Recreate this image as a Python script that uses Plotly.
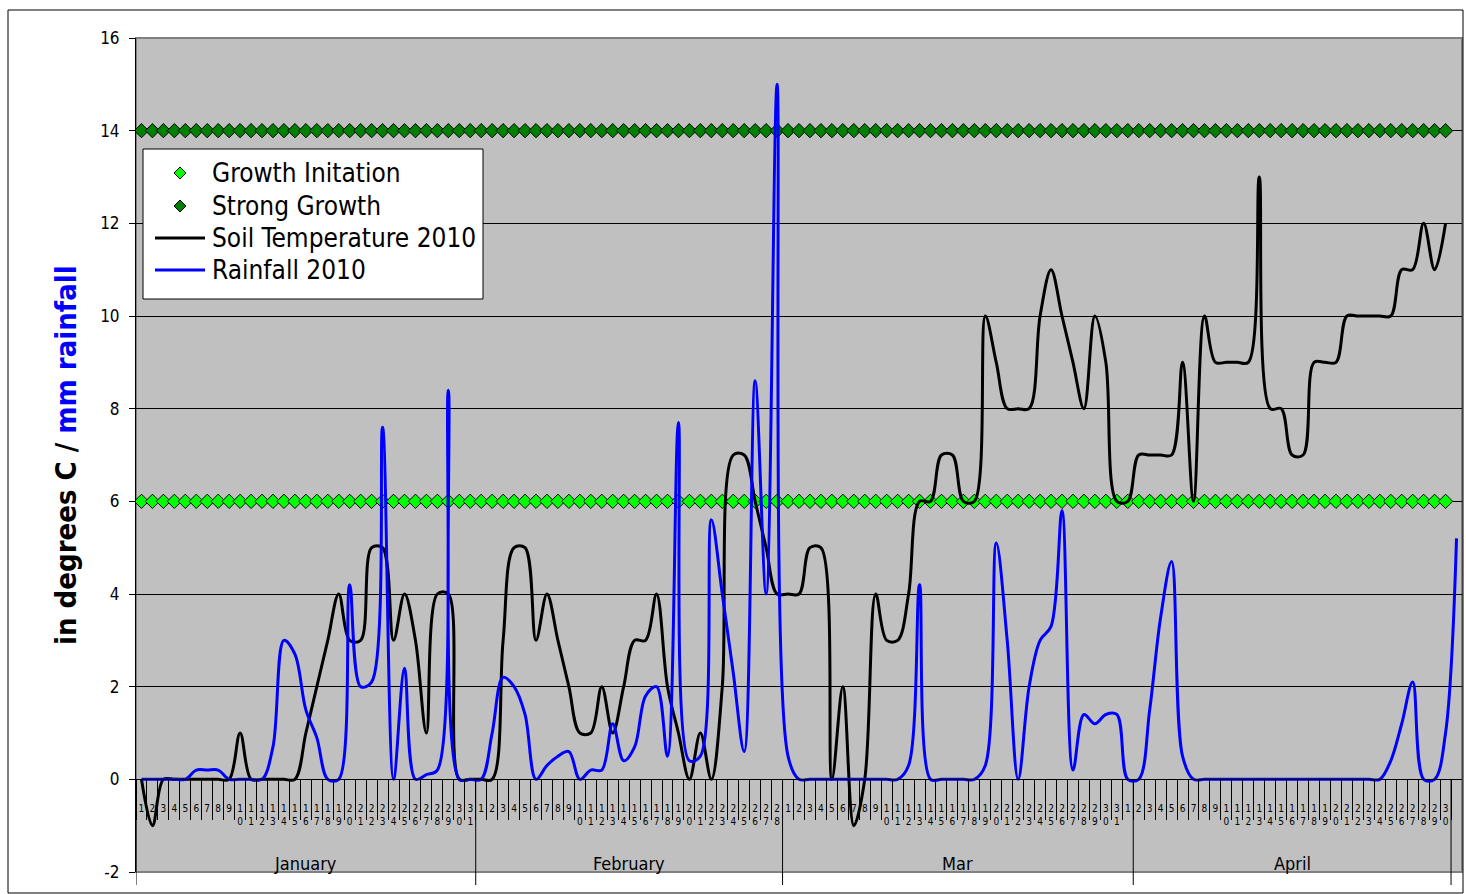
import plotly.graph_objects as go

# ---------------- data ----------------
day_labels = ([str(d) for d in range(1, 32)] + [str(d) for d in range(1, 29)] +
              [str(d) for d in range(1, 32)] + [str(d) for d in range(1, 31)] + [""])
months = ["January", "February", "Mar", "April"]
month_sizes = [31, 28, 32, 29]

soil = [
    # January
    0, -1, 0, 0, 0, 0, 0, 0, 0, 1, 0, 0, 0, 0, 0, 1, 2, 3, 4, 3, 3, 5, 5, 3, 4, 3, 1, 4, 4, 0, 0,
    # February
    0, 0, 3, 5, 5, 3, 4, 3, 2, 1, 1, 2, 1, 2, 3, 3, 4, 2, 1, 0, 1, 0, 2, 7, 7, 6, 5, 4,
    # March
    4, 4, 5, 5, 0, 2, -1, 0, 4, 3, 3, 4, 6, 6, 7, 7, 6, 6, 10, 9, 8, 8, 8, 10, 11, 10, 9, 8, 10, 9, 6, 6,
    # April
    7, 7, 7, 7, 9, 6, 10, 9, 9, 9, 9, 13, 8, 8, 7, 7, 9, 9, 9, 10, 10, 10, 10, 10, 11, 11, 12, 11, 12,
    None,
]

rain = [
    # January
    0, 0, 0, 0, 0, 0.2, 0.2, 0.2, 0, 0, 0, 0, 0.7, 3.0, 2.7, 1.5, 0.9, 0, 0, 4.2, 2.0, 2.1, 7.6, 0, 2.4, 0, 0.1, 0.2, 8.4, 0, 0,
    # February
    0, 1.0, 2.2, 2.0, 1.4, 0, 0.3, 0.5, 0.6, 0, 0.2, 0.2, 1.2, 0.4, 0.7, 1.8, 2.0, 0.5, 7.7, 0.4, 0.5, 5.6, 4.0, 2.3, 0.6, 8.6, 4.0, 15.0,
    # March
    0.5, 0, 0, 0, 0, 0, 0, 0, 0, 0, 0, 0.3, 4.2, 0, 0, 0, 0, 0, 0.3, 5.1, 3.0, 0, 2.0, 3.0, 3.3, 5.8, 0.2, 1.4, 1.2, 1.4, 1.4, 0,
    # April
    0, 1.5, 3.5, 4.7, 0.5, 0, 0, 0, 0, 0, 0, 0, 0, 0, 0, 0, 0, 0, 0, 0, 0, 0, 0, 0.4, 1.2, 2.1, 0, 0, 1.0,
    5.2,
]

growth_initiation = [6] * 120
strong_growth = [14] * 120

y_ticks = [-2, 0, 2, 4, 6, 8, 10, 12, 14, 16]

legend_names = ["Growth Initation", "Strong Growth", "Soil Temperature 2010", "Rainfall 2010"]

# ---------------- figure ----------------
FONT = "DejaVu Sans Condensed, DejaVu Sans, sans-serif"
W, H = 1466, 894
ML, MR, MT, MB = 136, 4, 38, 22
PW, PH = W - ML - MR, H - MT - MB


def px_x(p):
    return (p - ML) / PW


def px_y(p):
    return (H - MB - p) / PH


n = len(rain)
x_all = list(range(n))
x_days = x_all[:len(growth_initiation)]

GI_COLOR, SG_COLOR, SOIL_COLOR, RAIN_COLOR = "#00FF00", "#008000", "black", "#0000FF"

fig = go.Figure()
fig.add_trace(go.Scatter(
    x=x_days, y=growth_initiation, mode="markers", name=legend_names[0], showlegend=False,
    marker=dict(symbol="diamond", size=11, color=GI_COLOR, line=dict(color="black", width=1))))
fig.add_trace(go.Scatter(
    x=x_days, y=strong_growth, mode="markers", name=legend_names[1], showlegend=False,
    marker=dict(symbol="diamond", size=11, color=SG_COLOR, line=dict(color="black", width=1))))
fig.add_trace(go.Scatter(
    x=x_all, y=soil, mode="lines", name=legend_names[2], showlegend=False,
    line=dict(color=SOIL_COLOR, width=3, shape="spline", smoothing=1.0)))
fig.add_trace(go.Scatter(
    x=x_all, y=rain, mode="lines", name=legend_names[3], showlegend=False,
    line=dict(color=RAIN_COLOR, width=3, shape="spline", smoothing=1.0)))

ymin, ymax = -2, 16
zero_pos = (0 - ymin) / (ymax - ymin)

tick_text = ["<br>".join(list(s)) for s in day_labels]
boundaries = [i - 0.5 for i in range(len(day_labels))]

fig.update_layout(
    width=W, height=H,
    margin=dict(l=ML, r=MR, t=MT, b=MB),
    paper_bgcolor="white", plot_bgcolor="#C0C0C0",
    font=dict(family=FONT, color="black"),
    showlegend=False,
    xaxis=dict(
        range=[-0.5, n - 0.5], anchor="free", position=zero_pos,
        tickmode="array", tickvals=x_all, ticktext=tick_text, tickangle=0,
        tickfont=dict(size=10, family=FONT, color="black"),
        ticks="outside", ticklen=20, tickcolor="rgba(0,0,0,0)",
        minor=dict(tickmode="array", tickvals=boundaries, ticks="outside",
                   ticklen=40, tickcolor="black", tickwidth=1, showgrid=False),
        showline=True, linecolor="black", linewidth=1,
        showgrid=False, zeroline=False,
    ),
    yaxis=dict(
        range=[ymin, ymax], tickmode="array", tickvals=y_ticks,
        ticktext=[str(v) for v in y_ticks],
        ticks="outside", ticklen=6, tickcolor="black",
        tickfont=dict(size=17, family=FONT, color="black"),
        showline=True, linecolor="black", linewidth=1,
        showgrid=True, gridcolor="black", gridwidth=1, zeroline=False,
        ticklabelstandoff=6,
    ),
)

shapes = []
# plot area border (grey)
shapes.append(dict(type="rect", xref="paper", yref="paper", x0=0, x1=1, y0=0, y1=1,
                   line=dict(color="#808080", width=2), layer="below"))
# outer chart border
shapes.append(dict(type="rect", xref="paper", yref="paper",
                   x0=px_x(8), x1=px_x(1463), y0=px_y(893), y1=px_y(10),
                   line=dict(color="black", width=1)))
# month dividers
pos = -0.5
divs = [pos]
for s in month_sizes:
    pos += s
    divs.append(pos)
for d in divs:
    shapes.append(dict(type="line", xref="x", yref="paper", x0=d, x1=d,
                       y0=zero_pos, y1=px_y(885), line=dict(color="black", width=1)))

# manual legend box
shapes.append(dict(type="rect", xref="paper", yref="paper",
                   x0=px_x(143), x1=px_x(483), y0=px_y(299), y1=px_y(149),
                   fillcolor="white", line=dict(color="black", width=1)))
rows = [173, 206, 238, 270]
for cy, col in zip(rows[:2], [GI_COLOR, SG_COLOR]):
    cx, r = 180, 6
    path = "M {} {} L {} {} L {} {} L {} {} Z".format(
        px_x(cx - r), px_y(cy), px_x(cx), px_y(cy - r), px_x(cx + r), px_y(cy), px_x(cx), px_y(cy + r))
    shapes.append(dict(type="path", xref="paper", yref="paper", path=path,
                       fillcolor=col, line=dict(color="black", width=1)))
for cy, col in zip(rows[2:], [SOIL_COLOR, RAIN_COLOR]):
    shapes.append(dict(type="line", xref="paper", yref="paper",
                       x0=px_x(155), x1=px_x(205), y0=px_y(cy), y1=px_y(cy),
                       line=dict(color=col, width=3)))
fig.update_layout(shapes=shapes)

annotations = []
start = 0
for m, s in zip(months, month_sizes):
    annotations.append(dict(x=start + s / 2 - 0.5, y=px_y(863), xref="x", yref="paper",
                            text=m, showarrow=False, font=dict(size=18, family=FONT, color="black"),
                            xanchor="center", yanchor="middle"))
    start += s
for name, cy in zip(legend_names, rows):
    annotations.append(dict(x=px_x(210), y=px_y(cy), xref="paper", yref="paper",
                            text=name, showarrow=False, font=dict(size=26, family=FONT, color="black"),
                            xanchor="left", yanchor="middle"))
annotations.append(dict(
    x=px_x(66), y=px_y(455), xref="paper", yref="paper",
    text='<b>in degrees C / <span style="color:#0000FF">mm rainfall</span></b>',
    textangle=-90, showarrow=False, font=dict(size=29, family=FONT, color="black"),
    xanchor="center", yanchor="middle"))
fig.update_layout(annotations=annotations)

fig.write_html("out.html", config={"displayModeBar": False},
               post_script="document.body.style.margin='0px';document.body.style.overflow='hidden';")
